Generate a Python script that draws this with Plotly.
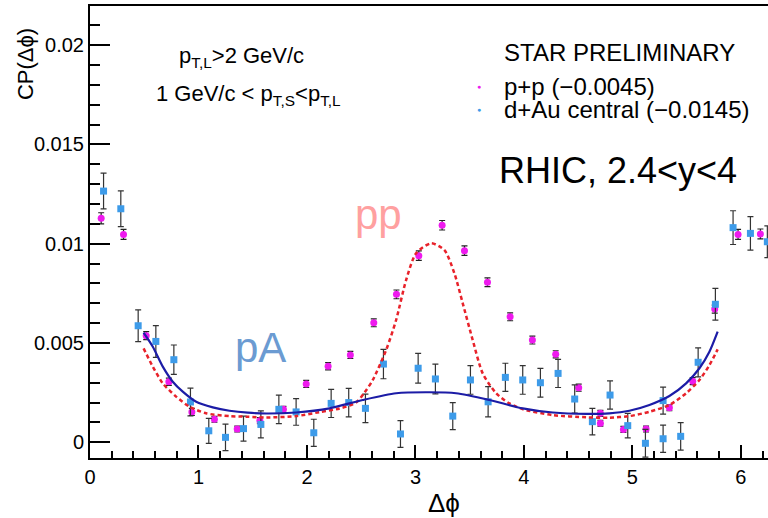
import plotly.graph_objects as go

# ---------------- data ----------------
pp_x = [0.103, 0.309, 0.518, 0.727, 0.939, 1.147, 1.357, 1.566, 1.783, 1.993,
        2.195, 2.400, 2.616, 2.825, 3.031, 3.246, 3.452, 3.664, 3.873, 4.078,
        4.293, 4.505, 4.705, 4.705, 4.917, 5.126, 5.341, 5.556, 5.759, 5.974, 6.180]
pp_y = [0.01128, 0.01047, 0.00537, 0.00305, 0.00153, 0.00116, 0.00067, 0.00109, 0.00166, 0.00294,
        0.00383, 0.00440, 0.00602, 0.00745, 0.00940, 0.01093, 0.00965, 0.00806, 0.00632, 0.00515,
        0.00443, 0.00275, 0.00146, 0.00096, 0.00065, 0.00067, 0.00174, 0.00308, 0.00671, 0.01047, 0.01049]
pp_err = [0.00028, 0.00025, 0.00020, 0.00018, 0.00018, 0.00015, 0.00015, 0.00015, 0.00015, 0.00018,
          0.00018, 0.00018, 0.00020, 0.00022, 0.00024, 0.00024, 0.00024, 0.00022, 0.00020, 0.00020,
          0.00018, 0.00018, 0.00015, 0.00015, 0.00015, 0.00015, 0.00015, 0.00018, 0.00020, 0.00025, 0.00025]

dau_x = [0.125, 0.284, 0.444, 0.607, 0.773, 0.926, 1.095, 1.249, 1.415, 1.575,
         1.741, 1.900, 2.063, 2.223, 2.385, 2.539, 2.705, 2.862, 3.025, 3.184,
         3.344, 3.507, 3.670, 3.829, 3.989, 4.152, 4.315, 4.468, 4.631, 4.794,
         4.957, 5.120, 5.283, 5.283, 5.445, 5.606, 5.765, 5.928, 6.088, 6.244]
dau_y = [0.01265, 0.01176, 0.00587, 0.00508, 0.00416, 0.00203, 0.00058, 0.00025, 0.00069, 0.00090,
         0.00166, 0.00153, 0.00048, 0.00196, 0.00200, 0.00171, 0.00394, 0.00042, 0.00373, 0.00319,
         0.00132, 0.00314, 0.00204, 0.00327, 0.00314, 0.00300, 0.00347, 0.00218, 0.00104, 0.00238,
         0.00084, -0.00005, 0.00210, 0.00018, 0.00030, 0.00403, 0.00695, 0.01081, 0.01052, 0.01010]
dau_err = [0.00090, 0.00090, 0.00080, 0.00080, 0.00074, 0.00070, 0.00063, 0.00067, 0.00063, 0.00068,
           0.00072, 0.00067, 0.00068, 0.00071, 0.00072, 0.00072, 0.00074, 0.00067, 0.00075, 0.00075,
           0.00068, 0.00072, 0.00076, 0.00071, 0.00072, 0.00072, 0.00071, 0.00071, 0.00067, 0.00071,
           0.00062, 0.00070, 0.00068, 0.00069, 0.00069, 0.00073, 0.00080, 0.00085, 0.00084, 0.00080]

# fitted curves
pa_fit_x = [0.494, 0.579, 0.671, 0.763, 0.855, 0.979, 1.132, 1.286, 1.455, 1.624, 1.90, 2.207,
            2.514, 2.822, 3.129, 3.375, 3.682, 3.989, 4.266, 4.573, 4.788, 4.972, 5.157, 5.341,
            5.495, 5.618, 5.71, 5.786]
pa_fit_y = [0.00552, 0.00481, 0.00381, 0.00305, 0.00255, 0.00204, 0.00176, 0.00159, 0.00149, 0.00145,
            0.00150, 0.00171, 0.00213, 0.00247, 0.00252, 0.00247, 0.00213, 0.00171, 0.00150, 0.00143,
            0.00146, 0.00159, 0.00188, 0.00233, 0.00297, 0.00373, 0.00456, 0.00557]

pp_fit_x = [0.494, 0.579, 0.671, 0.794, 0.917, 1.071, 1.286, 1.44, 1.624, 1.90, 2.115, 2.30, 2.453,
            2.53, 2.607, 2.73, 2.822, 2.914, 3.006, 3.145, 3.267, 3.359, 3.436, 3.528, 3.62, 3.744,
            3.866, 4.0, 4.266, 4.573, 4.788, 4.972, 5.157, 5.341, 5.495, 5.618, 5.71, 5.786]
pp_fit_y = [0.00473, 0.00381, 0.00297, 0.0023, 0.00179, 0.00146, 0.00132, 0.00129, 0.00125, 0.00132,
            0.00152, 0.0017, 0.0020, 0.0025, 0.00314, 0.00465, 0.00616, 0.00817, 0.00952, 0.01002,
            0.00968, 0.00851, 0.0070, 0.00515, 0.00347, 0.00247, 0.00196, 0.00165, 0.00137, 0.00126,
            0.00124, 0.00132, 0.00154, 0.00188, 0.00247, 0.00314, 0.00389, 0.00468]

x_ticks = [0, 1, 2, 3, 4, 5, 6]
y_ticks = [0, 0.005, 0.01, 0.015, 0.02]
y_ticktext = ["0", "0.005", "0.01", "0.015", "0.02"]

FONT = "Liberation Sans, Arial, Helvetica, sans-serif"
MAG = "#ee1aee"
BLU = "#3d9be9"

fig = go.Figure()
fig.add_trace(go.Scatter(
    x=pp_x, y=pp_y, mode="markers",
    marker=dict(symbol="circle", size=7, color=MAG),
    error_y=dict(type="data", array=pp_err, color="#222222", thickness=1.2, width=3),
    showlegend=False))
fig.add_trace(go.Scatter(
    x=dau_x, y=dau_y, mode="markers",
    marker=dict(symbol="square", size=7, color=BLU),
    error_y=dict(type="data", array=dau_err, color="#333333", thickness=1.2, width=3),
    showlegend=False))
fig.add_trace(go.Scatter(
    x=pp_fit_x, y=pp_fit_y, mode="lines",
    line=dict(color="#e8222a", width=2.5, dash="4px,3px", shape="spline", smoothing=0.7),
    showlegend=False))
fig.add_trace(go.Scatter(
    x=pa_fit_x, y=pa_fit_y, mode="lines",
    line=dict(color="#1c1ca6", width=2.2, shape="spline", smoothing=0.7),
    showlegend=False))

ann = []
def add(text, x, y, size, color="black", xanchor="left", yanchor="middle", angle=0):
    ann.append(dict(text=text, x=x, y=y, xref="paper", yref="paper", showarrow=False,
                    xanchor=xanchor, yanchor=yanchor, textangle=angle,
                    font=dict(family=FONT, size=size, color=color)))

add("p<sub>T,L</sub>&gt;2 GeV/c", 0.224, 0.887, 22, xanchor="center")
add("1 GeV/c &lt; p<sub>T,S</sub>&lt;p<sub>T,L</sub>", 0.2345, 0.803, 22, xanchor="center")
add("STAR PRELIMINARY", 0.608, 0.898, 24)
add("p+p (\u22120.0045)", 0.608, 0.823, 24)
add("d+Au central (\u22120.0145)", 0.608, 0.770, 24)
add("\u25CF", 0.574, 0.823, 7, color=MAG, xanchor="center")
add("\u25CF", 0.574, 0.770, 7, color=BLU, xanchor="center")
add("RHIC, 2.4&lt;y&lt;4", 0.600, 0.637, 36)
add("pp", 0.425, 0.538, 42, color="#ffa0a0", xanchor="center")
add("pA", 0.251, 0.245, 42, color="#6b9bd2", xanchor="center")
add("CP(\u0394\u03D5)", -0.094, 0.872, 22, xanchor="center", angle=-90)
add("\u0394\u03D5", 0.522, -0.0996, 26, xanchor="center")

fig.update_layout(
    width=768, height=518,
    margin=dict(l=90, r=0, t=6, b=60),
    paper_bgcolor="white", plot_bgcolor="white",
    font=dict(family=FONT, size=20, color="black"),
    annotations=ann,
    xaxis=dict(range=[0, 6.25], showline=True, linecolor="black", linewidth=2, mirror=True,
               ticks="inside", ticklen=13, tickwidth=1.5, tickcolor="black",
               tickvals=x_ticks, tickfont=dict(size=20, family=FONT),
               minor=dict(dtick=0.2, tick0=0, ticks="inside", ticklen=7, tickwidth=1.5, tickcolor="black"),
               showgrid=False, zeroline=False),
    yaxis=dict(range=[-0.00079, 0.02197], showline=True, linecolor="black", linewidth=2, mirror=False,
               ticks="inside", ticklen=20, tickwidth=1.5, tickcolor="black",
               tickvals=y_ticks, ticktext=y_ticktext, tickfont=dict(size=20, family=FONT),
               minor=dict(dtick=0.001, tick0=0, ticks="inside", ticklen=10, tickwidth=1.5, tickcolor="black"),
               showgrid=False, zeroline=False),
)

fig.write_html("out.html")
